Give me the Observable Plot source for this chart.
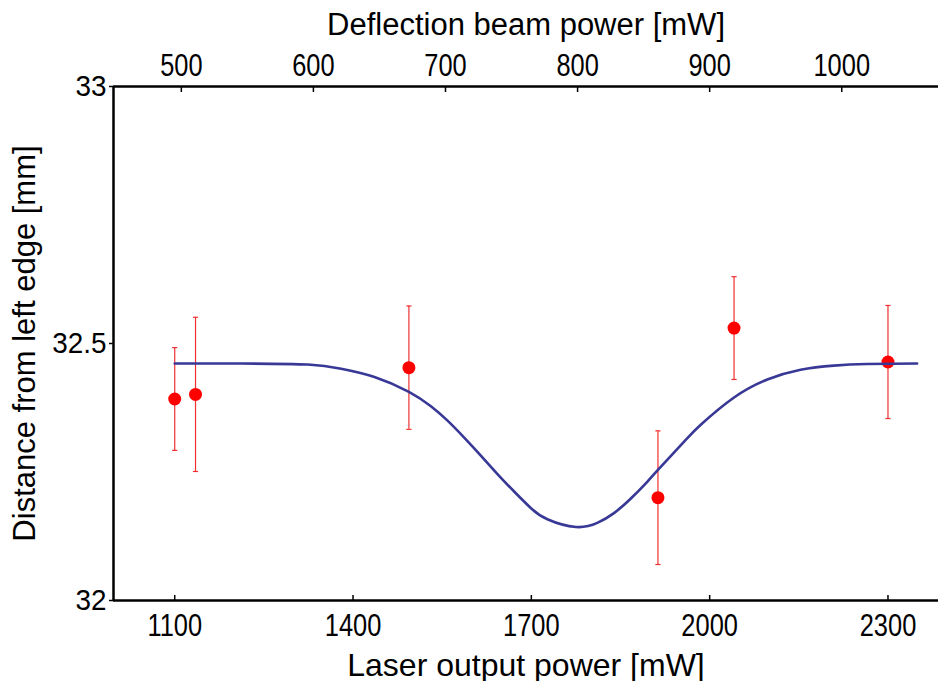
<!DOCTYPE html>
<html><head><meta charset="utf-8">
<script src="https://cdn.jsdelivr.net/npm/d3@7"></script>
<script src="https://cdn.jsdelivr.net/npm/@observablehq/plot@0.6"></script>
<style>body{margin:0;background:#fff} svg{display:block;background:#fff}</style>
</head><body><div id="chart"></div>
<script>
// measured points
const laserPower = [1100, 1135, 1494, 1913, 2041, 2300];
const distance   = [32.392, 32.401, 32.453, 32.200, 32.530, 32.464];
const errorBar   = [0.10, 0.15, 0.12, 0.13, 0.10, 0.11];
// fitted curve
const fitPower    = [1100, 1212, 1324, 1380, 1436, 1494, 1531, 1559, 1587, 1615, 1643, 1671, 1699, 1727, 1775, 1811, 1839, 1867, 1895, 1913, 1957, 1985, 2041, 2097, 2153, 2209, 2265, 2349];
const fitDistance = [32.461, 32.461, 32.459, 32.451, 32.435, 32.406, 32.378, 32.350, 32.317, 32.282, 32.246, 32.212, 32.180, 32.158, 32.143, 32.151, 32.170, 32.198, 32.231, 32.254, 32.309, 32.342, 32.395, 32.430, 32.449, 32.457, 32.460, 32.461];
// axes
const xDomain = [997, 2385];
const yDomain = [32, 33];
const bottomTicks = [1100, 1400, 1700, 2000, 2300];
const topTicks = [500, 600, 700, 800, 900, 1000];
const deflectionRatio = 0.45; // deflection beam power / laser output power
const yTicks = [32, 32.5, 33];

const points = laserPower.map((x, i) => ({x, y: distance[i], e: errorBar[i]}));
const caps = points.flatMap(d => [{x: d.x, y: d.y - d.e}, {x: d.x, y: d.y + d.e}]);
const fit = fitPower.map((x, i) => ({x, y: fitDistance[i]}));
const capSymbol = {draw(ctx) { ctx.moveTo(-2.6, 0); ctx.lineTo(2.6, 0); }};

const font = "'Liberation Sans', Arial, Helvetica, sans-serif";

const chart = Plot.plot({
  width: 938,
  height: 681,
  marginLeft: 113,
  marginRight: 0,
  marginTop: 86,
  marginBottom: 81,
  style: {fontFamily: font, color: "#000", background: "#fff"},
  x: {domain: xDomain},
  y: {domain: yDomain},
  marks: [
    Plot.axisY({ticks: yTicks, tickFormat: d => String(d), tickSize: 4, tickPadding: 3, strokeWidth: 1.5, fontSize: 30,
      label: null}),
    Plot.axisY({ticks: [], label: "Distance from left edge [mm]", labelAnchor: "center", labelArrow: "none", labelOffset: 101, fontSize: 31}),
    Plot.axisX({anchor: "bottom", ticks: bottomTicks, tickFormat: d => String(d), tickSize: -5, tickPadding: 18, strokeWidth: 1.5, fontSize: 31,
      label: null}),
    Plot.axisX({anchor: "bottom", ticks: [], label: "Laser output power [mW]", labelAnchor: "center", labelArrow: "none", labelOffset: 75, fontSize: 32}),
    Plot.axisX({anchor: "top", ticks: topTicks.map(t => t / deflectionRatio), tickFormat: d => String(Math.round(d * deflectionRatio)), tickSize: -5, tickPadding: 16, strokeWidth: 1.5, fontSize: 31,
      label: null}),
    Plot.axisX({anchor: "top", ticks: [], label: "Deflection beam power [mW]", labelAnchor: "center", labelArrow: "none", labelOffset: 74, fontSize: 31}),
    Plot.ruleY([yDomain[0], yDomain[1]], {stroke: "#000", strokeWidth: 2.5}),
    Plot.ruleX([xDomain[0]], {stroke: "#000", strokeWidth: 2.5}),
    Plot.ruleX(points, {x: "x", y1: d => d.y - d.e, y2: d => d.y + d.e, stroke: "#f03030", strokeWidth: 1.2}),
    Plot.dot(caps, {x: "x", y: "y", symbol: capSymbol, stroke: "#f03030", strokeWidth: 1.2, fill: "none", r: 3}),
    Plot.dot(points, {x: "x", y: "y", r: 6.5, fill: "#ff0000", stroke: "none"}),
    Plot.line(fit, {x: "x", y: "y", stroke: "#383896", strokeWidth: 2.6, curve: "natural"})
  ]
});
document.getElementById("chart").appendChild(chart);
// condensed look of the x tick labels
chart.querySelectorAll('g[aria-label="x-axis tick label"] text').forEach(t => {
  const w = t.getComputedTextLength();
  t.setAttribute("textLength", (w * 0.82).toFixed(1));
  t.setAttribute("lengthAdjust", "spacingAndGlyphs");
});
chart.querySelectorAll('g[aria-label="y-axis tick label"] text').forEach(t => {
  const w = t.getComputedTextLength();
  t.setAttribute("textLength", (w * 0.93).toFixed(1));
  t.setAttribute("lengthAdjust", "spacingAndGlyphs");
});
</script>
</body></html>
